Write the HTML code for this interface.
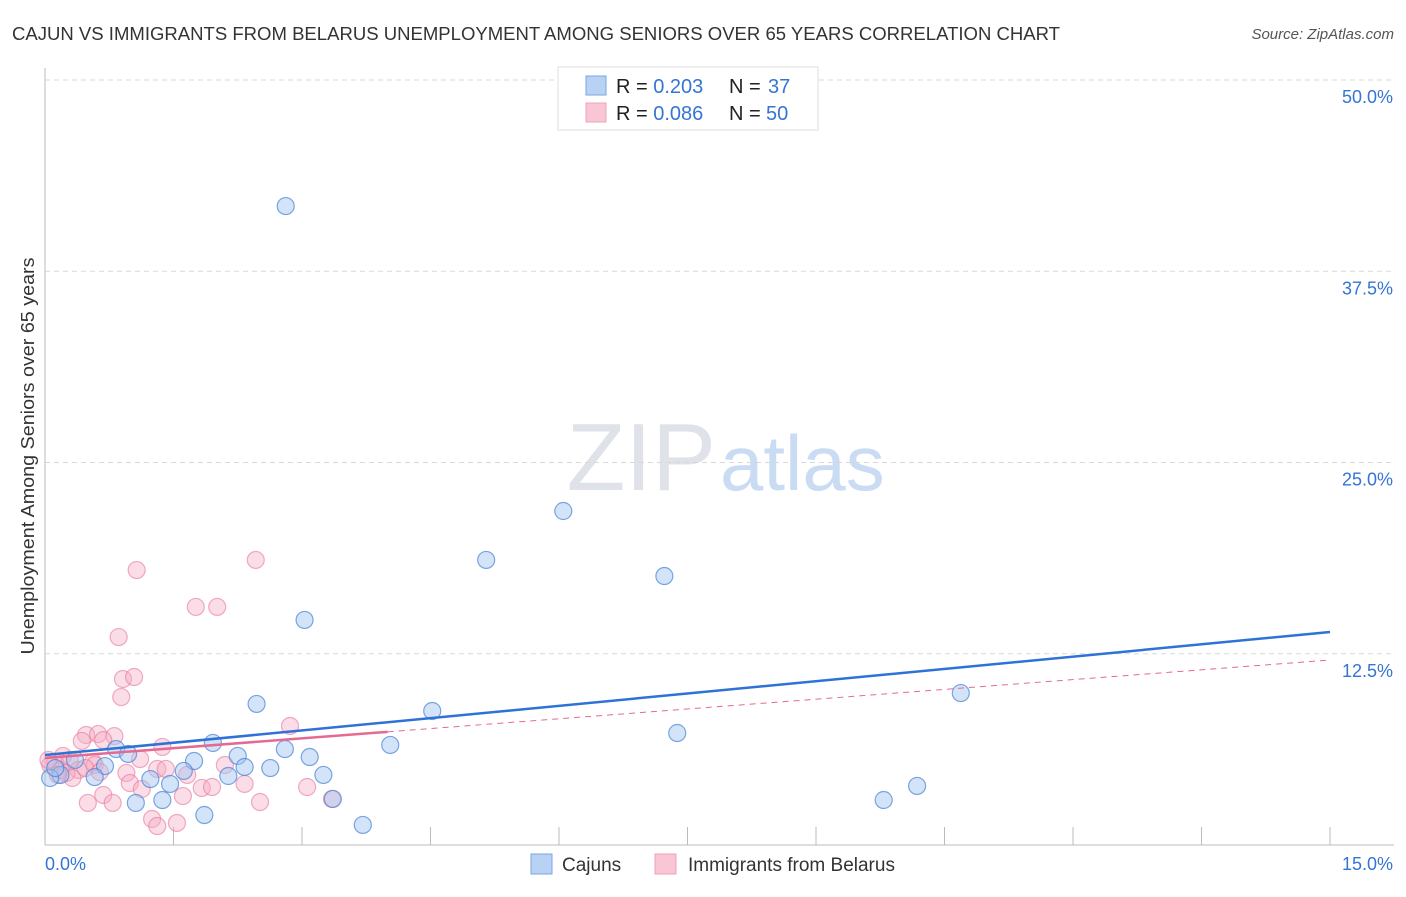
<!DOCTYPE html>
<html><head><meta charset="utf-8"><style>
body{margin:0;background:#fff;font-family:"Liberation Sans",sans-serif;}
svg text{font-family:"Liberation Sans",sans-serif;}
</style></head><body>
<svg id="c" width="1406" height="892" xmlns="http://www.w3.org/2000/svg">
<text x="12" y="40" font-size="18" fill="#333" textLength="1048" lengthAdjust="spacingAndGlyphs">CAJUN VS IMMIGRANTS FROM BELARUS UNEMPLOYMENT AMONG SENIORS OVER 65 YEARS CORRELATION CHART</text>
<text x="1394" y="39" font-size="15" fill="#555" font-style="italic" text-anchor="end">Source: ZipAtlas.com</text>
<text x="716" y="490" font-size="96" fill="#dfe2e8" font-family="Liberation Serif" text-anchor="end">ZIP</text>
<text x="720" y="490" font-size="78" fill="#c9dcf3">atlas</text>
<text transform="translate(34,456) rotate(-90)" font-size="18" fill="#333" text-anchor="middle" textLength="397" lengthAdjust="spacingAndGlyphs">Unemployment Among Seniors over 65 years</text>
<g id="grid"></g><g id="marks"></g>
<g>
<rect x="558" y="67" width="260" height="63" fill="#fff" stroke="#ddd"/>
<rect x="586" y="76" width="20" height="19" fill="#b8d2f4" stroke="#7aa6e4"/>
<rect x="586" y="103" width="20" height="19" fill="#f9c6d5" stroke="#eea2b8"/>
<text x="616" y="93" font-size="20" fill="#222">R = <tspan fill="#3574d4">0.203</tspan><tspan x="729">N = </tspan><tspan x="768" fill="#3574d4">37</tspan></text>
<text x="616" y="120" font-size="20" fill="#222">R = <tspan fill="#3574d4">0.086</tspan><tspan x="729">N = </tspan><tspan x="766" fill="#3574d4">50</tspan></text>
</g>
<g>
<rect x="531" y="854" width="21" height="20" fill="#b8d2f4" stroke="#7aa6e4"/>
<text x="562" y="871" font-size="19" fill="#333">Cajuns</text>
<rect x="655" y="854" width="21" height="20" fill="#f9c6d5" stroke="#eea2b8"/>
<text x="688" y="871" font-size="19" fill="#333">Immigrants from Belarus</text>
</g>
</svg>
<script>
const yTicks=[12.5,25,37.5,50];
const yTickLabels=["12.5%","25.0%","37.5%","50.0%"];
const xTicks=[0,1.5,3,4.5,6,7.5,9,10.5,12,13.5,15];
const cajunX=[2.81,6.05,5.15,7.23,3.03,2.47,4.52,10.69,7.38,9.79,10.18,1.96,0.83,0.97,2.80,3.09,2.25,1.74,2.33,2.63,4.03,0.70,0.58,1.62,2.14,3.25,1.23,1.46,1.37,1.06,1.86,3.36,3.71,0.18,0.06,0.35,0.12];
const cajunY=[41.76,21.83,18.63,17.58,14.71,9.22,8.76,9.93,7.32,2.94,3.86,6.67,6.27,5.95,6.27,5.75,5.82,5.49,5.10,5.03,6.54,5.16,4.44,4.84,4.51,4.58,4.31,3.99,2.94,2.75,1.96,3.01,1.31,4.58,4.38,5.56,5.03];
const belX=[2.46,1.07,1.76,2.01,0.86,0.91,1.04,0.89,2.86,0.48,0.62,0.81,0.43,0.68,1.37,1.11,0.21,0.56,2.10,1.31,1.41,0.95,1.66,0.99,1.13,1.83,1.95,2.33,1.61,3.06,0.68,0.50,0.79,2.51,3.35,1.25,1.31,1.54,0.06,0.12,0.18,0.29,0.39,0.25,0.04,0.58,0.32,0.15,0.47,0.64];
const belY=[18.63,17.97,15.56,15.56,13.59,10.85,10.98,9.67,7.78,7.19,7.25,7.12,6.80,6.86,6.41,5.62,5.82,5.42,5.23,4.97,4.97,4.71,4.58,4.05,3.66,3.73,3.79,3.99,3.20,3.79,3.27,2.75,2.75,2.81,3.01,1.70,1.24,1.44,5.23,5.42,4.90,5.56,4.90,4.71,5.56,5.23,4.38,4.58,5.03,4.77];
const cajunTrend=[5.88,13.92];
const belTrend=[5.69,12.09];
const belSolidEnd=4.0;
const X0=45,X1=1330,Y0=845,Ypx=15.3;
const sx=v=>X0+v*(X1-X0)/15;
const sy=v=>Y0-v*Ypx;
const NS="http://www.w3.org/2000/svg";
function mk(tag,attrs,parent){const e=document.createElementNS(NS,tag);for(const k in attrs)e.setAttribute(k,attrs[k]);parent.appendChild(e);return e;}
const grid=document.getElementById('grid'),marks=document.getElementById('marks');
yTicks.forEach((t,i)=>{
  const l=mk('line',{x1:X0,x2:1394,y1:sy(t),y2:sy(t),stroke:'#d8d8d8','stroke-dasharray':'5,4'},grid);
  
  
  const tx=mk('text',{x:1393,y:sy(t)+23,'font-size':18,fill:'#3574d4','text-anchor':'end'},grid);
  tx.textContent=yTickLabels[i];
  
  
});
const ax=mk('line',{x1:X0,x2:X0,y1:68,y2:Y0,stroke:'#bbb'},grid);


const bx=mk('line',{x1:X0,x2:1394,y1:Y0,y2:Y0,stroke:'#bbb'},grid);


xTicks.forEach(t=>{
  const l=mk('line',{x1:sx(t),x2:sx(t),y1:827,y2:Y0,stroke:'#bbb'},grid);
  
  
});
const xl=mk('text',{x:45,y:870,'font-size':18,fill:'#3574d4'},grid);xl.textContent='0.0%';


const xr=mk('text',{x:1393,y:870,'font-size':18,fill:'#3574d4','text-anchor':'end'},grid);xr.textContent='15.0%';


belX.forEach((x,i)=>{
  const c=mk('circle',{cx:sx(x),cy:sy(belY[i]),r:8.5,fill:'rgba(246,170,195,0.4)',stroke:'rgba(230,120,155,0.6)','stroke-width':1.2},marks);
  
  
});
cajunX.forEach((x,i)=>{
  const c=mk('circle',{cx:sx(x),cy:sy(cajunY[i]),r:8.5,fill:'rgba(160,195,240,0.45)',stroke:'rgba(70,130,215,0.7)','stroke-width':1.2},marks);
  
  
});
const bt=v=>belTrend[0]+(belTrend[1]-belTrend[0])*v/15;
const pd=mk('line',{x1:sx(belSolidEnd),y1:sy(bt(belSolidEnd)),x2:sx(15),y2:sy(bt(15)),stroke:'#e46a92','stroke-width':1,'stroke-dasharray':'6,5'},marks);


const ps=mk('line',{x1:sx(0),y1:sy(bt(0)),x2:sx(belSolidEnd),y2:sy(bt(belSolidEnd)),stroke:'#e46a92','stroke-width':2.5},marks);


const cl=mk('line',{x1:sx(0),y1:sy(cajunTrend[0]),x2:sx(15),y2:sy(cajunTrend[1]),stroke:'#2f72d6','stroke-width':2.5},marks);


</script>
</body></html>
